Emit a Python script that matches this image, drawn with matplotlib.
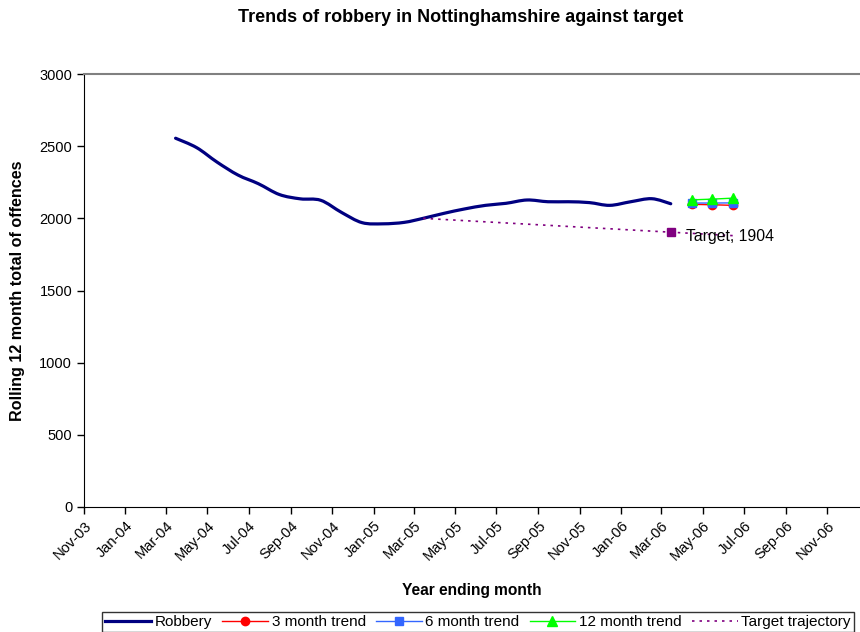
import datetime as dt

import matplotlib
matplotlib.use("Agg")
import matplotlib.pyplot as plt
import matplotlib.dates as mdates
from matplotlib.lines import Line2D
from matplotlib.path import Path
from matplotlib.patches import PathPatch

plt.rcParams['font.family'] = ['Liberation Sans', 'DejaVu Sans']

# rolling 12 month totals, Mar-04 .. Mar-06 (plotted mid-month)
robbery_months = [(2004, m) for m in range(3, 13)] + [(2005, m) for m in range(1, 13)] + [(2006, m) for m in range(1, 4)]
robbery = [2555, 2490, 2390, 2300, 2240, 2165, 2135, 2125, 2040, 1970,
           1962, 1972, 2000, 2035, 2065, 2090, 2104, 2127, 2115, 2115,
           2109, 2090, 2115, 2136, 2101]

trend_months = [(2006, 4), (2006, 5), (2006, 6)]
trend_3 = [2097, 2094, 2090]
trend_6 = [2106, 2106, 2107]
trend_12 = [2128, 2133, 2140]

target_months = [(2005, 3), (2006, 3), (2006, 6)]
target_traj = [2000, 1904, 1880]
target_month = (2006, 3)
target_value = 1904


def mid(months):
    return [dt.date(y, m, 15) for y, m in months]


def smooth_path(xs, ys):
    # cubic bezier through every point, spreadsheet-style smoothing
    pts = list(zip(xs, ys))
    verts = [pts[0]]
    codes = [Path.MOVETO]
    n = len(pts)
    for i in range(n - 1):
        p0 = pts[max(i - 1, 0)]
        p1 = pts[i]
        p2 = pts[i + 1]
        p3 = pts[min(i + 2, n - 1)]
        c1 = (p1[0] + (p2[0] - p0[0]) / 6, p1[1] + (p2[1] - p0[1]) / 6)
        c2 = (p2[0] - (p3[0] - p1[0]) / 6, p2[1] - (p3[1] - p1[1]) / 6)
        verts += [c1, c2, p2]
        codes += [Path.CURVE4] * 3
    return Path(verts, codes)


fig = plt.figure(figsize=(8.6, 6.32), dpi=100)
ax = fig.add_axes([84 / 860, 125 / 632, 776 / 860, 433 / 632])

rx = mdates.date2num(mid(robbery_months))
ax.add_patch(PathPatch(smooth_path(rx, robbery), facecolor='none', edgecolor='#000080',
                       lw=2.3, capstyle='round', joinstyle='round'))
ax.plot(mid(target_months), target_traj, color='#800080', lw=1.2, ls=(0, (1.5, 3)))
ax.plot(mid(trend_months), trend_3, color='#FF0000', lw=1, marker='o', ms=6)
ax.plot(mid(trend_months), trend_6, color='#3366FF', lw=1, marker='s', ms=5.5)
ax.plot(mid(trend_months), trend_12, color='#00FF00', lw=1, marker='^', ms=7)
ax.plot(mid([target_month]), [target_value], ls='none', marker='s', ms=6, color='#800080')
ax.annotate(f'Target, {target_value}', (mid([target_month])[0], target_value),
            xytext=(11, -3), textcoords='offset points', va='center', fontsize=11.3)

ax.set_xlim(dt.date(2003, 11, 1), dt.date(2006, 12, 19))
ax.set_ylim(0, 3000)
ax.set_yticks(range(0, 3001, 500))
ax.xaxis.set_major_locator(mdates.MonthLocator(bymonth=[1, 3, 5, 7, 9, 11]))
ax.xaxis.set_major_formatter(mdates.DateFormatter('%b-%y'))
ax.tick_params(direction='out', length=5, width=1, labelsize=10.5)
ax.tick_params(axis='y', labelsize=10.5)
plt.setp(ax.get_xticklabels(), rotation=45, ha='right', rotation_mode='anchor')

ax.spines['right'].set_visible(False)
ax.spines['top'].set_color('#808080')
ax.spines['top'].set_linewidth(1.5)

ax.set_xlabel('Year ending month', fontsize=11.2, fontweight='bold', labelpad=14)
ax.set_ylabel('Rolling 12 month total of offences', fontsize=11.6, fontweight='bold', labelpad=10)
fig.text(461 / 860, 1 - 17 / 632, 'Trends of robbery in Nottinghamshire against target',
         ha='center', va='center', fontsize=13, fontweight='bold')

handles = [
    Line2D([], [], color='#000080', lw=2.3),
    Line2D([], [], color='#FF0000', lw=1, marker='o', ms=6),
    Line2D([], [], color='#3366FF', lw=1, marker='s', ms=5.5),
    Line2D([], [], color='#00FF00', lw=1, marker='^', ms=6.5),
    Line2D([], [], color='#800080', lw=1.2, ls=(0, (1.5, 3))),
]
labels = ['Robbery', '3 month trend', '6 month trend', '12 month trend', 'Target trajectory']
leg = fig.legend(handles, labels, ncol=5, loc='center', bbox_to_anchor=(478 / 860, 1 - 622 / 632),
                 fontsize=11, frameon=True, fancybox=False, edgecolor='black',
                 handlelength=3.0, handletextpad=0.25, columnspacing=0.65, borderpad=0.2)
leg.get_frame().set_linewidth(1)

fig.savefig('out.png', dpi=100)
